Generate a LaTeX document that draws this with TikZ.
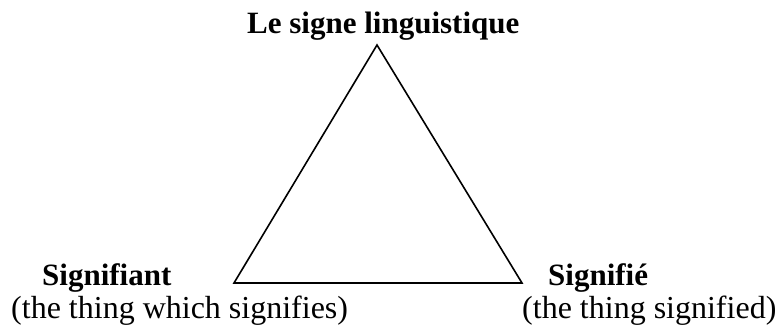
\documentclass[tikz,border=0pt]{standalone}
\usepackage{fontspec}
\setmainfont{Liberation Serif}
\usetikzlibrary{positioning}

\begin{document}
\begin{tikzpicture}[
    x=1pt,y=-1pt,
    every node/.style={inner sep=0pt,anchor=base west},
    term/.style={font=\fontsize{31}{36}\selectfont\bfseries},
    gloss/.style={font=\fontsize{32}{38}\selectfont},
    side/.style={line width=1.6pt,line join=miter}
  ]
    \useasboundingbox (0,0) rectangle (779,327);
    \coordinate (apex) at (377,45);
    \coordinate (left) at (234,283);
    \coordinate (right) at (522,283);
    \node[term] (signe) at (247,33) {Le signe linguistique};
    \node[term] (signifiant) at (42,285) {Signifiant};
    \node[term] (signifie) at (548,285) {Signifié};
    \node[gloss] (signifiantnote) at (11,318) {(the thing which signifies)};
    \node[gloss] (signifienote) at (522,318) {(the thing signified)};
    \draw[side] (apex) -- (left) -- (right) -- cycle;
  \end{tikzpicture}
\end{document}
